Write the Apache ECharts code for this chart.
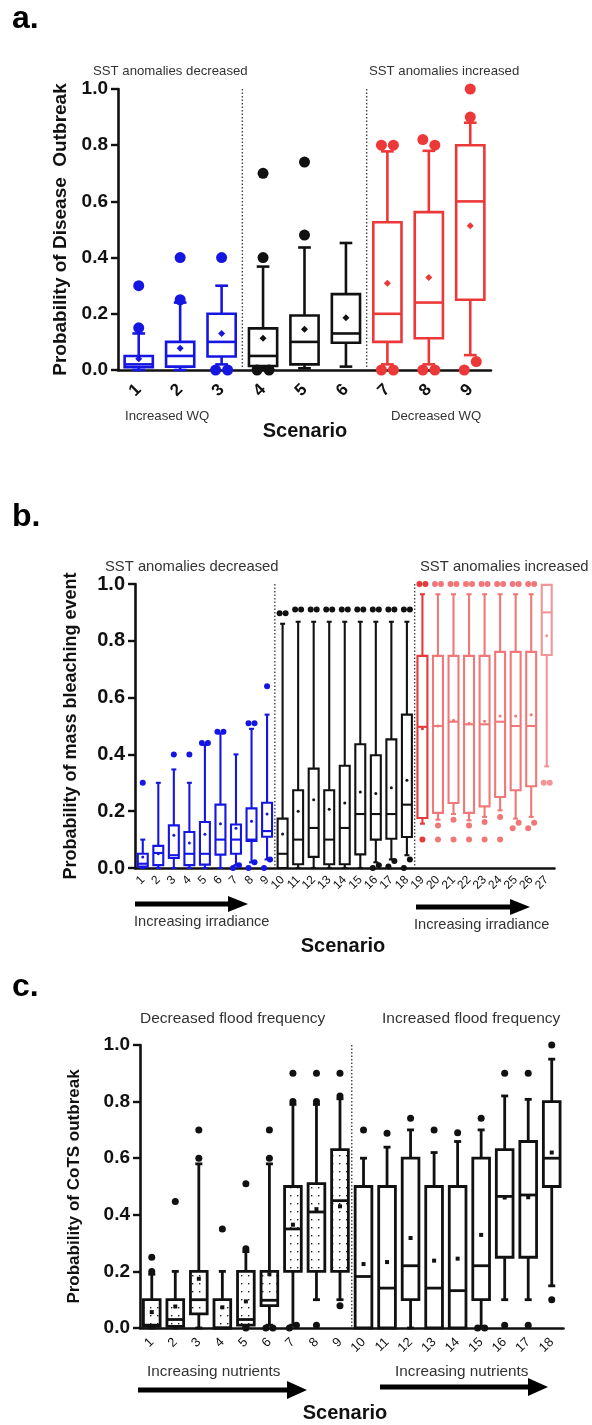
<!DOCTYPE html>
<html><head><meta charset="utf-8">
<script src="https://cdn.jsdelivr.net/npm/echarts@6/dist/echarts.min.js"></script>
<style>html,body{margin:0;padding:0;background:#fff}#c{width:592px;height:1425px}</style>
</head><body><div id="c"></div>
<script>
// ---------- Panel a data ----------
const aScen = ['1','2','3','4','5','6','7','8','9'];
const aLow  = [0, 0, 0.02, 0.005, 0.006, 0.012, 0.02, 0.02, 0.053];
const aQ1   = [0.01, 0.012, 0.048, 0.014, 0.02, 0.097, 0.10, 0.113, 0.25];
const aMed  = [0.02, 0.05, 0.10, 0.05, 0.10, 0.13, 0.20, 0.24, 0.60];
const aQ3   = [0.05, 0.10, 0.20, 0.148, 0.194, 0.27, 0.526, 0.562, 0.80];
const aHigh = [0.13, 0.24, 0.30, 0.368, 0.436, 0.452, 0.778, 0.78, 0.88];
const aMean = [0.04, 0.077, 0.13, 0.113, 0.145, 0.186, 0.309, 0.329, 0.513];
const aOut  = [[1,0.15],[1,0.30],[2,0.25],[2,0.40],[3,0.40],[3,0.0],[3,0.0],[4,0.0],[4,0.0],[4,0.40],[4,0.70],
               [5,0.48],[5,0.74],[7,0.80],[7,0.80],[7,0.0],[7,0.0],[8,0.82],[8,0.80],[8,0.0],[8,0.0],
               [9,0.90],[9,1.0],[9,0.0],[9,0.03]];
const aSeparators = [3, 6];

// ---------- Panel b data ----------
const bScen = ['1','2','3','4','5','6','7','8','9','10','11','12','13','14','15','16','17','18',
               '19','20','21','22','23','24','25','26','27'];
const bLow  = [0, 0, 0, 0, 0, 0, 0.01, 0.02, 0.03,
               0, 0, 0, 0, 0, 0, 0.02, 0.03, 0.045,
               0.156, 0.17, 0.19, 0.168, 0.18, 0.203, 0.174, 0.18, 0.358];
const bQ1   = [0.005, 0.01, 0.035, 0.01, 0.012, 0.047, 0.05, 0.095, 0.11,
               0.0, 0.013, 0.039, 0.013, 0.013, 0.048, 0.10, 0.103, 0.109,
               0.176, 0.194, 0.229, 0.194, 0.217, 0.25, 0.274, 0.288, 0.75];
const bMed  = [0.015, 0.053, 0.045, 0.05, 0.05, 0.10, 0.10, 0.10, 0.13,
               0.05, 0.10, 0.141, 0.10, 0.141, 0.19, 0.19, 0.19, 0.223,
               0.497, 0.50, 0.515, 0.506, 0.506, 0.515, 0.50, 0.50, 0.90];
const bQ3   = [0.05, 0.078, 0.15, 0.127, 0.162, 0.223, 0.153, 0.21, 0.23,
               0.174, 0.274, 0.35, 0.274, 0.36, 0.436, 0.397, 0.453, 0.54,
               0.747, 0.747, 0.747, 0.747, 0.747, 0.761, 0.761, 0.761, 0.997];
const bHigh = [0.10, 0.30, 0.347, 0.30, 0.433, 0.474, 0.40, 0.49, 0.54,
               0.86, 0.867, 0.867, 0.867, 0.867, 0.867, 0.867, 0.867, 0.867,
               0.964, 0.964, 0.964, 0.964, 0.964, 0.964, 0.964, 0.964, 0.997];
const bMean = [0.039, 0.05, 0.115, 0.088, 0.119, 0.156, 0.14, 0.165, 0.19,
               0.12, 0.20, 0.24, 0.207, 0.229, 0.268, 0.262, 0.283, 0.309,
               0.49, 0.50, 0.52, 0.51, 0.517, 0.535, 0.535, 0.54, 0.818];
const bOut  = [[1,0.30],[3,0.40],[4,0.40],[5,0.44],[5,0.44],[6,0.48],[6,0.48],[7,0.0],[7,0.01],
               [8,0.51],[8,0.51],[8,0.0],[8,0.02],[9,0.64],[9,0.0],[9,0.03],
               [10,0.897],[10,0.897],[11,0.91],[11,0.91],[12,0.91],[12,0.91],[13,0.91],[13,0.91],
               [14,0.91],[14,0.91],[15,0.91],[15,0.91],[16,0.91],[16,0.91],[16,0.0],[16,0.01],
               [17,0.91],[17,0.91],[17,0.005],[17,0.025],[18,0.91],[18,0.91],[18,0.0],[18,0.03],
               [19,1.0],[19,1.0],[19,0.10],[20,1.0],[20,1.0],[20,0.15],[20,0.10],
               [21,1.0],[21,1.0],[21,0.17],[21,0.10],[22,1.0],[22,1.0],[22,0.15],[22,0.10],
               [23,1.0],[23,1.0],[23,0.162],[23,0.10],[24,1.0],[24,1.0],[24,0.18],[24,0.10],
               [25,1.0],[25,1.0],[25,0.14],[25,0.159],[26,1.0],[26,1.0],[26,0.14],[26,0.159],
               [27,0.30],[27,0.30]];
const bSeparators = [9, 18];

// ---------- Panel c data ----------
const cScen = ['1','2','3','4','5','6','7','8','9','10','11','12','13','14','15','16','17','18'];
const cLow  = [0, 0, 0, 0, 0.005, 0.01, 0.01, 0.10, 0.10, 0, 0, 0, 0, 0, 0.005, 0.10, 0.10, 0.149];
const cQ1   = [0.006, 0.006, 0.05, 0.0, 0.01, 0.079, 0.20, 0.20, 0.20, 0, 0, 0.10, 0, 0, 0.10, 0.25, 0.25, 0.50];
const cMed  = [0.01, 0.03, 0.10, 0.0, 0.03, 0.098, 0.35, 0.41, 0.45, 0.182, 0.141, 0.22, 0.141, 0.132, 0.22, 0.465, 0.47, 0.60];
const cQ3   = [0.10, 0.10, 0.20, 0.10, 0.20, 0.20, 0.50, 0.51, 0.63, 0.50, 0.50, 0.60, 0.50, 0.50, 0.60, 0.63, 0.659, 0.80];
const cHigh = [0.19, 0.20, 0.58, 0.20, 0.27, 0.58, 0.79, 0.79, 0.81, 0.60, 0.639, 0.70, 0.62, 0.659, 0.70, 0.82, 0.808, 0.95];
const cMean = [0.056, 0.076, 0.174, 0.073, 0.094, 0.19, 0.365, 0.42, 0.43, 0.226, 0.233, 0.318, 0.238, 0.245, 0.329, 0.461, 0.462, 0.62];
const cOut  = [[1,0.20],[1,0.25],[2,0.447],[3,0.60],[3,0.70],[4,0.35],[5,0.28],[5,0.51],[5,0.0],
               [6,0.60],[6,0.70],[6,0.0],[6,0.0],[7,0.80],[7,0.90],[7,0.0],[7,0.01],[8,0.80],[8,0.90],[8,0.01],
               [9,0.82],[9,0.90],[9,0.079],[10,0.70],[11,0.688],[12,0.741],[13,0.70],[14,0.69],
               [15,0.741],[15,0.0],[15,0.0],[16,0.90],[16,0.01],[17,0.90],[17,0.01],[18,1.0],[18,0.10]];
const cSeparators = [9];

const yTicks = [0, 0.2, 0.4, 0.6, 0.8, 1.0];

// ---------- styling ----------
const FONT = '"Liberation Sans", Arial, sans-serif';
const BLUE = '#1616e2', BLACK = '#111111';

// stipple pattern for panel c
const pat = document.createElement('canvas');
pat.width = 7; pat.height = 8;
(function(){ const g = pat.getContext('2d'); g.fillStyle = '#fff'; g.fillRect(0,0,7,8);
  g.fillStyle = '#222'; g.fillRect(3,3,1.4,1.4); })();

const panels = [
  { scen: aScen, low: aLow, q1: aQ1, med: aMed, q3: aQ3, high: aHigh, mean: aMean, out: aOut, seps: aSeparators,
    grid: {left: 118, right: 101, top: 89, height: 281},
    color: i => i < 3 ? BLUE : (i < 6 ? BLACK : '#ec3838'),
    fill: () => '#fff', boxFrac: 0.68, capFrac: 0.45, lw: 2.6, outSize: 11, pairDx: 6,
    meanSym: 'diamond', meanSize: 7, xFont: 17, xWeight: 'bold', xMargin: 17, yFont: 19,
    yName: 'Probability of Disease  Outbreak', yNameSize: 19, yNameGap: 44 },
  { scen: bScen, low: bLow, q1: bQ1, med: bMed, q3: bQ3, high: bHigh, mean: bMean, out: bOut, seps: bSeparators,
    grid: {left: 135, right: 37.5, top: 584, height: 284},
    color: i => i < 9 ? BLUE : (i < 18 ? BLACK : (i === 18 ? '#e63a3a' : (i === 26 ? '#f39595' : '#f07878'))),
    fill: () => '#fff', boxFrac: 0.64, capFrac: 0.5, lw: 2.1, outSize: 6, pairDx: 3,
    meanSym: 'circle', meanSize: 3, xFont: 12, xWeight: 'normal', xMargin: 10, yFont: 20,
    yName: 'Probability of mass bleaching event', yNameSize: 18, yNameGap: 55 },
  { scen: cScen, low: cLow, q1: cQ1, med: cMed, q3: cQ3, high: cHigh, mean: cMean, out: cOut, seps: cSeparators,
    grid: {left: 140, right: 28.5, top: 1045, height: 283},
    color: () => BLACK,
    fill: i => i < 9 ? {image: pat, repeat: 'repeat'} : '#fff', boxFrac: 0.71, capFrac: 0.42, lw: 2.8, outSize: 7, pairDx: 3.5,
    meanSym: 'rect', meanSize: 4, xFont: 13, xWeight: 'normal', xMargin: 12, yFont: 19,
    yName: 'Probability of CoTS outbreak', yNameSize: 17, yNameGap: 57 }
];

function outlierItems(list) {
  const byS = {}; const order = [];
  list.forEach(([s, v]) => { if (!byS[s]) { byS[s] = []; order.push(s); } byS[s].push(v); });
  const items = [];
  order.forEach(s => {
    const vals = byS[s]; const used = vals.map(() => false);
    for (let a = 0; a < vals.length; a++) {
      if (used[a]) continue;
      let b = -1;
      for (let c = a + 1; c < vals.length; c++) if (!used[c] && Math.abs(vals[c] - vals[a]) < 0.04) { b = c; break; }
      used[a] = true;
      if (b >= 0) { used[b] = true; items.push([s - 1, vals[a], -1]); items.push([s - 1, vals[b], 1]); }
      else items.push([s - 1, vals[a], 0]);
    }
  });
  return items;
}

const grids = [], xAxes = [], yAxes = [], series = [];
panels.forEach((p, g) => {
  grids.push(Object.assign({containLabel: false}, p.grid));
  xAxes.push({ type: 'category', gridIndex: g, data: p.scen, boundaryGap: true,
    axisLine: {lineStyle: {color: BLACK, width: 2.6}},
    axisTick: {alignWithLabel: true, length: 6, lineStyle: {color: BLACK, width: 2.4}},
    axisLabel: {rotate: 45, interval: 0, fontSize: p.xFont, fontWeight: p.xWeight, color: BLACK, fontFamily: FONT, margin: p.xMargin},
    splitLine: {show: false} });
  yAxes.push({ type: 'value', gridIndex: g, min: yTicks[0], max: yTicks[yTicks.length - 1], interval: 0.2,
    axisLine: {show: true, lineStyle: {color: BLACK, width: 2.6}},
    axisTick: {show: true, length: 7, lineStyle: {color: BLACK, width: 2.4}},
    axisLabel: {formatter: v => v.toFixed(1), fontSize: p.yFont, fontWeight: 'bold', color: BLACK, fontFamily: FONT, margin: 10},
    splitLine: {show: false},
    name: p.yName, nameLocation: 'middle', nameGap: p.yNameGap,
    nameTextStyle: {fontSize: p.yNameSize, fontWeight: 'bold', color: BLACK, fontFamily: FONT} });

  // separators
  series.push({ type: 'custom', xAxisIndex: g, yAxisIndex: g, silent: true, z: 1,
    data: p.seps.map(k => [k]),
    renderItem: (params, api) => {
      const k = api.value(0);
      const x = (api.coord([k - 1, 0])[0] + api.coord([k, 0])[0]) / 2;
      return { type: 'line', shape: {x1: x, y1: api.coord([k, 1])[1], x2: x, y2: api.coord([k, 0])[1]},
        style: {stroke: '#444', lineWidth: 1.4, lineDash: [1.5, 2]} };
    } });

  // boxes
  series.push({ type: 'custom', xAxisIndex: g, yAxisIndex: g, silent: true, z: 3,
    encode: {x: 0, y: [1, 2, 3, 4, 5]},
    data: p.scen.map((s, i) => [i, p.low[i], p.q1[i], p.med[i], p.q3[i], p.high[i]]),
    renderItem: (params, api) => {
      const i = api.value(0);
      const xc = api.coord([i, 0])[0];
      const band = api.size([1, 0])[0];
      const bw = band * p.boxFrac, cw = bw * p.capFrac;
      const Y = v => api.coord([i, v])[1];
      const lo = api.value(1), q1 = api.value(2), md = api.value(3), q3 = api.value(4), hi = api.value(5);
      const col = p.color(i);
      const ls = {stroke: col, lineWidth: p.lw};
      const ch = [];
      if (hi > q3) {
        ch.push({type: 'line', shape: {x1: xc, y1: Y(q3), x2: xc, y2: Y(hi)}, style: ls});
        ch.push({type: 'line', shape: {x1: xc - cw / 2, y1: Y(hi), x2: xc + cw / 2, y2: Y(hi)}, style: ls});
      }
      if (lo < q1) {
        ch.push({type: 'line', shape: {x1: xc, y1: Y(q1), x2: xc, y2: Y(lo)}, style: ls});
        ch.push({type: 'line', shape: {x1: xc - cw / 2, y1: Y(lo), x2: xc + cw / 2, y2: Y(lo)}, style: ls});
      }
      ch.push({type: 'rect', shape: {x: xc - bw / 2, y: Y(q3), width: bw, height: Y(q1) - Y(q3)},
        style: {fill: p.fill(i), stroke: col, lineWidth: p.lw}});
      ch.push({type: 'line', shape: {x1: xc - bw / 2, y1: Y(md), x2: xc + bw / 2, y2: Y(md)}, style: ls});
      return {type: 'group', children: ch};
    } });

  // means
  series.push({ type: 'scatter', xAxisIndex: g, yAxisIndex: g, silent: true, z: 4,
    symbol: p.meanSym, symbolSize: p.meanSize,
    data: p.mean.map((v, i) => [i, v]),
    itemStyle: {color: prm => p.color(prm.value[0]), opacity: 1} });

  // outliers
  series.push({ type: 'scatter', xAxisIndex: g, yAxisIndex: g, silent: true, z: 5,
    symbolSize: p.outSize,
    data: outlierItems(p.out).map(o => ({value: [o[0], o[1]], symbolOffset: [o[2] * p.pairDx, 0]})),
    itemStyle: {color: prm => p.color(prm.value[0]), opacity: 1} });
});

function txt(x, y, text, size, opts) {
  return Object.assign({ type: 'text', x: x, y: y, silent: true,
    style: Object.assign({ text: text, font: (opts && opts.bold ? 'bold ' : '') + size + 'px ' + FONT,
      fill: (opts && opts.color) || '#333', textAlign: (opts && opts.align) || 'left', textVerticalAlign: 'middle' }) });
}
function arrow(x1, x2, y, th, hl, hh) {
  return { type: 'group', silent: true, children: [
    { type: 'rect', shape: {x: x1, y: y - th / 2, width: x2 - x1 - hl + 1, height: th}, style: {fill: '#000'} },
    { type: 'polygon', shape: {points: [[x2 - hl, y - hh / 2], [x2, y], [x2 - hl, y + hh / 2]]}, style: {fill: '#000'} }
  ]};
}

const graphics = [
  txt(12, 19, 'a.', 32, {bold: true, color: '#000'}),
  txt(93, 71, 'SST anomalies decreased', 13.2),
  txt(369, 71, 'SST anomalies increased', 13.2),
  txt(125, 416, 'Increased WQ', 13.2),
  txt(391, 416, 'Decreased WQ', 13.2),
  txt(305, 431, 'Scenario', 20, {bold: true, color: '#111', align: 'center'}),

  txt(12, 517, 'b.', 32, {bold: true, color: '#000'}),
  txt(105, 567, 'SST anomalies decreased', 14.8),
  txt(420, 567, 'SST anomalies increased', 14.8),
  arrow(135, 248, 904, 5, 20, 16),
  arrow(416, 530, 907, 5, 20, 16),
  txt(134, 922, 'Increasing irradiance', 14.6),
  txt(414, 925, 'Increasing irradiance', 14.6),
  txt(343, 946, 'Scenario', 20, {bold: true, color: '#111', align: 'center'}),

  txt(12, 987, 'c.', 32, {bold: true, color: '#000'}),
  txt(140, 1019, 'Decreased flood frequency', 15.5),
  txt(382, 1019, 'Increased flood frequency', 15.5),
  txt(147, 1372, 'Increasing nutrients', 15.3),
  txt(395, 1372, 'Increasing nutrients', 15.3),
  arrow(138, 307, 1390, 5, 20, 18),
  arrow(380, 548, 1387, 5, 20, 18),
  txt(345, 1413, 'Scenario', 20, {bold: true, color: '#111', align: 'center'})
];

const chart = echarts.init(document.getElementById('c'), null, {renderer: 'canvas'});
chart.setOption({
  animation: false,
  backgroundColor: '#fff',
  grid: grids, xAxis: xAxes, yAxis: yAxes, series: series,
  graphic: graphics
});
</script></body></html>
